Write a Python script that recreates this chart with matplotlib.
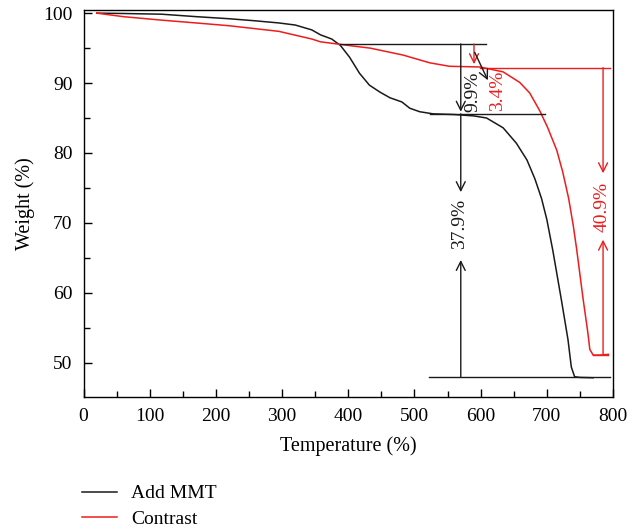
import matplotlib

matplotlib.use("Agg")
import matplotlib.pyplot as plt
from matplotlib.ticker import MultipleLocator

plt.rcParams["font.family"] = ["Liberation Serif", "DejaVu Serif"]

# TGA curves (temperature, weight %)
mmt_temp = [20, 60, 118, 170, 220, 260, 295, 320, 345, 358, 375, 388, 402, 417, 432,
            448, 463, 481, 493, 508, 528, 560, 590, 609, 634, 654, 670, 682, 692, 700,
            709, 722, 732, 737, 742, 750, 770]
mmt_weight = [100, 99.95, 99.85, 99.5, 99.2, 98.9, 98.6, 98.3, 97.6, 96.9, 96.3, 95.4,
              93.7, 91.4, 89.7, 88.7, 87.9, 87.3, 86.4, 85.9, 85.6, 85.5, 85.3, 85.0,
              83.6, 81.4, 79.0, 76.3, 73.5, 70.5, 66.1, 59.0, 53.3, 49.4, 48.0, 47.9, 47.85]

ref_temp = [20, 60, 118, 170, 220, 295, 345, 358, 407, 433, 483, 523, 553, 599, 634,
            659, 674, 689, 701, 715, 724, 733, 740, 745, 755, 762, 765, 770, 780, 793]
ref_weight = [100, 99.5, 99.0, 98.6, 98.2, 97.4, 96.3, 95.9, 95.3, 95.0, 94.0, 92.9, 92.4,
              92.3, 91.6, 90.1, 88.6, 86.1, 83.7, 80.4, 77.3, 73.5, 69.6, 66.3, 59.0,
              54.3, 51.9, 51.1, 51.1, 51.2]

series_labels = ["Add MMT", "Contrast"]
series_colors = ["#1a1a1a", "#ee1c1c"]

# weight-loss step levels and labels
mmt_levels = [95.6, 85.6, 47.9]
ref_levels = [92.2, 51.1]
mmt_steps = ["9.9%", "37.9%"]
ref_steps = ["3.4%", "40.9%"]

FS = 14

fig = plt.figure(figsize=(6.28, 5.31), dpi=100)
ax = fig.add_axes([83.5 / 628, 1 - 397 / 531, (613 - 83.5) / 628, (397 - 10) / 531])

ax.plot(mmt_temp, mmt_weight, color=series_colors[0], lw=1.1, label=series_labels[0])
ax.plot(ref_temp, ref_weight, color=series_colors[1], lw=1.1, label=series_labels[1])

kc, rc = series_colors
lk = dict(color=kc, lw=1.0)
lr = dict(color=rc, lw=1.0)

# black guide lines
ax.plot([388, 608], [mmt_levels[0]] * 2, **lk)
ax.plot([524, 697], [mmt_levels[1]] * 2, **lk)
ax.plot([522, 795], [mmt_levels[2]] * 2, **lk)
# red guide lines
ax.plot([599, 795], [ref_levels[0]] * 2, **lr)
ax.plot([770, 793], [ref_levels[1]] * 2, **lr)


def arrow(x0, y0, x1, y1, color):
    ax.annotate("", xy=(x1, y1), xytext=(x0, y0),
                arrowprops=dict(arrowstyle="->", color=color, lw=1.0,
                                shrinkA=0, shrinkB=0, mutation_scale=16))


xk = 570
arrow(xk, mmt_levels[0], xk, mmt_levels[1] + 0.3, kc)
arrow(xk, mmt_levels[1], xk, 74.4, kc)
arrow(xk, mmt_levels[2], xk, 64.7, kc)
ax.text(588, 88.7, mmt_steps[0], rotation=90, ha="center", va="center", fontsize=FS, color=kc)
ax.text(xk - 2, 69.8, mmt_steps[1], rotation=90, ha="center", va="center", fontsize=FS,
        color=kc, bbox=dict(fc="white", ec="none", pad=0.5))

xr = 785
arrow(xr, ref_levels[0], xr, 77.1, rc)
arrow(xr, ref_levels[1], xr, 67.6, rc)
ax.text(xr - 2, 72.3, ref_steps[1], rotation=90, ha="center", va="center", fontsize=FS, color=rc)
arrow(590, mmt_levels[0], 590, 92.7, rc)
arrow(591, 94.4, 611, 90.4, kc)
ax.text(626, 88.9, ref_steps[0], rotation=90, ha="center", va="center", fontsize=FS, color=rc)

ax.set_xlim(0, 800)
ax.set_ylim(45.1, 100.45)
ax.xaxis.set_major_locator(MultipleLocator(100))
ax.xaxis.set_minor_locator(MultipleLocator(50))
ax.yaxis.set_major_locator(MultipleLocator(10))
ax.yaxis.set_minor_locator(MultipleLocator(5))
ax.tick_params(which="both", direction="in", top=False, right=False, labelsize=FS, width=1.0)
ax.tick_params(which="major", length=6)
ax.tick_params(which="minor", length=4)
ax.tick_params(axis="x", pad=8)
ax.tick_params(axis="y", pad=8)
for s in ax.spines.values():
    s.set_linewidth(1.0)

ax.set_xlabel("Temperature (%)", fontsize=FS + 0.5, labelpad=8)
ax.set_ylabel("Weight (%)", fontsize=FS + 0.5, labelpad=6)

fig.legend(loc="upper left", bbox_to_anchor=(78 / 628, 1 - 481 / 531), frameon=False,
           fontsize=FS, handlelength=1.8, handletextpad=0.75, labelspacing=0.42,
           borderpad=0.2, borderaxespad=0)

fig.savefig("out.png", dpi=100)
